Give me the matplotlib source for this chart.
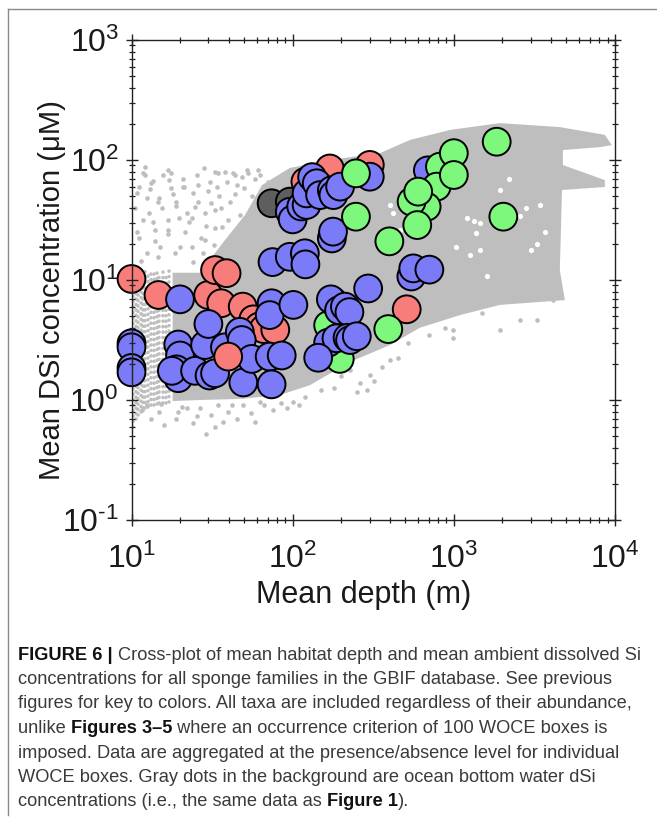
import math
import matplotlib
matplotlib.use("Agg")
import matplotlib.pyplot as plt
from matplotlib.lines import Line2D
from matplotlib.ticker import LogLocator, FixedLocator, FuncFormatter, NullFormatter

plt.rcParams['font.family'] = ['Liberation Sans', 'DejaVu Sans']
plt.rcParams['mathtext.fontset'] = 'custom'
plt.rcParams['mathtext.rm'] = 'Liberation Sans'
plt.rcParams['mathtext.it'] = 'Liberation Sans:italic'
plt.rcParams['mathtext.bf'] = 'Liberation Sans:bold'

# ---------------- data ----------------
# sponge-family circles (mean depth m, mean dSi uM, colour group), in drawing order
depth = [74, 96,
         10, 14.7, 29.9, 33, 38.9, 36, 49, 57, 62, 66, 78, 120, 170, 301, 510,
         166, 196,
         10, 10, 10, 10, 20, 19.5, 20, 19, 19.5, 17.8, 24.8, 28.6, 30, 30.5, 33, 38, 47, 48.3,
         49.4, 55.7, 72, 85.5, 74, 74, 72, 101, 75, 96, 119, 120, 175, 178, 96, 100, 113,
         122, 122, 132, 141, 148, 175, 179, 197, 301, 690, 294, 179, 172.6, 194, 211, 225,
         166, 187, 219, 227, 250, 144, 545, 560, 705,
         820, 782, 678, 247, 247, 398, 392, 547, 593, 601, 1000, 1000, 1845, 2028,
         39.8]
dsi = [43.6, 45,
       10.2, 7.5, 7.5, 12.1, 11.4, 6.4, 6.0, 4.7, 4.1, 3.9, 3.85, 66, 85, 91, 5.7,
       4.2, 2.2,
       2.97, 2.75, 1.85, 1.7, 6.9, 2.9, 2.35, 1.8, 1.52, 1.75, 1.75, 2.87, 4.3, 1.6, 1.67, 2.75, 3.7, 3.16,
       1.4, 2.2, 2.3, 2.35, 1.35, 6.4, 5.1, 6.2, 14.1, 15.6, 16.7, 13.5, 22.2, 25.3, 37, 32, 41,
       42.2, 52.7, 72, 64, 51, 56, 51, 60, 72.6, 82, 8.5, 6.6, 6.9, 5.6, 6.0, 5.4,
       3.0, 3.27, 3.3, 3.16, 3.4, 2.25, 10.7, 12.5, 12.2,
       88, 60, 40.8, 77.4, 33.7, 21, 3.9, 45, 28.7, 54.5, 114, 75, 142, 33.7,
       2.3]
group = (['dark'] * 2 + ['red'] * 15 + ['green'] * 2 + ['blue'] * 60 +
         ['green'] * 14 + ['red'] * 1)

# ocean bottom-water dSi cloud: dense core outline (depth, dSi)
cloud_depth = [38, 50.6, 64.6, 96, 170, 348, 535, 946, 1932, 4546, 8650, 9550, 8050,
               4750, 4750, 8650, 8650, 4690, 4546, 4887, 1932, 1092, 615, 401, 226,
               128, 83.4, 47, 26.6, 18.0, 18.0, 26.6]
cloud_dsi = [21.5, 34.8, 61.9, 85.8, 100, 114, 147, 178, 203, 188, 162, 133, 128,
             121, 90.8, 68, 59.6, 56.2, 12.1, 6.8, 6.2, 5.1, 4.0, 2.87, 2.07,
             1.33, 1.1, 1.02, 1.0, 0.98, 11.5, 11.5]

# gaps (no data) inside the dense cloud
gap_depth = [3430, 2570, 3000, 1450, 1260, 463, 400, 111, 210, 1200, 1450, 420, 1030,
             1380, 1930, 1600, 2200, 3700, 1330, 2800, 3300, 520]
gap_dsi = [42, 34, 17.8, 17.8, 16.3, 26, 42, 35, 51, 33, 30, 36, 19,
           24.6, 56, 10.7, 70, 25, 31, 40, 20, 30]

# shallow-depth columns of bottom-water dots
stripe_depth = [10.25, 10.6, 11.0, 11.4, 11.8, 12.2, 12.7, 13.2, 13.7, 14.3, 14.9, 15.6,
                16.3, 17.1]
stripe_top = [11, 12, 11, 12.5, 11.5, 12, 11, 12, 11.5, 12, 11.5, 12.5, 11.5, 12]
stripe_bottom = [0.6, 0.7, 0.75, 0.8, 0.85, 0.85, 0.88, 0.9, 0.9, 0.92, 0.95, 0.95,
                 0.95, 0.97]

# scattered outlying bottom-water dots
halo_depth = [11.8, 13.3, 15.7, 17.7, 10.8, 12.4, 14.7, 19, 20.9, 24.2, 24.8, 28.6, 33, 38,
              42.8, 11.8, 13.6, 16.9, 23.6, 10.8, 14, 16.9, 21.5, 33, 36.3, 28.6, 14.7,
              18.6, 23.6, 27.9, 33, 39.8, 48.3, 53, 61.2,
              11.1, 12.1, 13.6, 14.9, 16.8, 18.9, 21.3, 25.5, 30.5, 34.5, 43.7, 52, 62.5,
              11.1, 12.5, 14, 16.8, 22.7, 27, 32.5, 11.4, 12.8, 15.5, 19.8, 26, 30, 35,
              45, 58, 70, 12.2, 17.5, 21, 28, 39, 44, 36, 29, 20, 15, 24, 32,
              10.5, 13, 18, 22, 31, 41, 50, 56, 26, 17, 34, 47,
              11.7, 13.2, 14.9, 18.9, 22, 25.5, 28.8, 34.5, 39.8, 49, 62.5, 75,
              12.4, 16, 20.5, 24, 31, 37, 42, 55, 66, 85, 100, 120, 150, 110, 92,
              26.5, 19.5, 45, 33, 58, 15.2,
              226, 261, 301, 288, 357, 402, 450, 250, 986, 986, 1932, 2570, 3281, 4120,
              320, 200, 180, 520, 700, 880, 1500, 3800]
halo_dsi = [77.5, 64, 75, 77.5, 52.7, 48, 45, 45, 60, 52.7, 40.8, 36, 80, 80,
            77.5, 31.6, 30.6, 31.6, 32.7, 25.3, 26.1, 26.1, 25.3, 27, 27.8, 21.5, 15.6,
            16.7, 19, 16.7, 38.3, 31.6, 72.6, 77.5, 82.6,
            60, 75.5, 67, 48, 82, 41, 60, 75.5, 65.5, 78, 75.5, 82, 75.5,
            22.6, 16.8, 21, 24.4, 30.6, 22.6, 19.5, 14.4, 36, 40, 33, 45, 55, 50,
            62, 70, 66, 88, 58, 70, 85, 66, 52, 40, 28, 19, 19, 14, 14.5,
            40, 57, 52, 36, 44, 45, 58, 50, 62, 68, 60, 35,
            0.82, 0.7, 0.79, 0.7, 0.86, 0.74, 0.52, 0.9, 0.8, 0.9, 0.97, 0.82,
            0.9, 0.62, 0.88, 0.64, 0.75, 0.66, 0.9, 0.78, 0.9, 0.95, 0.97, 1.05, 1.2, 0.9, 0.85,
            0.85, 0.8, 0.7, 0.6, 0.66, 0.92,
            1.78, 1.39, 1.61, 1.21, 1.9, 2.15, 2.24, 1.17, 3.83, 3.29, 3.83, 4.64, 4.64, 6.8,
            1.45, 1.6, 1.25, 3.0, 3.5, 4.0, 5.3, 7.5]

x_ticks = [10, 100, 1000, 10000]
y_ticks = [0.1, 1, 10, 100, 1000]
x_label = "Mean depth (m)"
y_label = "Mean DSi concentration (\u03bcM)"

caption_lines = [
    [("FIGURE 6 | ", True), ("Cross-plot of mean habitat depth and mean ambient dissolved Si", False)],
    [("concentrations for all sponge families in the GBIF database. See previous", False)],
    [("figures for key to colors. All taxa are included regardless of their abundance,", False)],
    [("unlike ", False), ("Figures 3\u20135", True), (" where an occurrence criterion of 100 WOCE boxes is", False)],
    [("imposed. Data are aggregated at the presence/absence level for individual", False)],
    [("WOCE boxes. Gray dots in the background are ocean bottom water dSi", False)],
    [("concentrations (i.e., the same data as ", False), ("Figure 1", True), (").", False)],
]

palette = {'red': '#F87C7A', 'blue': '#7B7BF8', 'green': '#7DF87D', 'dark': '#5E5E5E'}
gray = '#BEBEBE'
cap_family = ['Liberation Sans', 'DejaVu Sans']

# ---------------- figure ----------------
W, H = 657, 827
fig = plt.figure(figsize=(W / 100, H / 100), dpi=100)
ax = fig.add_axes([131.5 / W, 1 - 520 / H, (615 - 131.5) / W, 480 / H])
ax.set_xscale('log')
ax.set_yscale('log')
ax.set_xlim(10, 10000)
ax.set_ylim(0.1, 1000)

ax.fill(cloud_depth, cloud_dsi, color=gray, lw=0, zorder=1)
ax.scatter(gap_depth, gap_dsi, s=14, color='white', lw=0, zorder=1.1)
for d, t, b in zip(stripe_depth, stripe_top, stripe_bottom):
    ax.plot([d, d], [b, t], color=gray, lw=2.6, linestyle=(0, (0.01, 1.5)),
            dash_capstyle='round', zorder=1)
ax.scatter(halo_depth, halo_dsi, s=11, color=gray, lw=0, zorder=1)

cols = [palette[g] for g in group]
ax.scatter(depth, dsi, s=400, c=cols, edgecolors='black', linewidths=1.4,
           zorder=2, clip_on=False)

ax.set_axisbelow(False)
for sp in ax.spines.values():
    sp.set_linewidth(1.0)
    sp.set_color('#222222')
    sp.set_zorder(3)


def decade_label(v, pos):
    e = round(math.log10(v))
    s = str(e).replace('-', '\u2010')
    return r'$\mathregular{10^{%s}}$' % s


ax.xaxis.set_major_locator(FixedLocator(x_ticks))
ax.yaxis.set_major_locator(FixedLocator(y_ticks))
ax.xaxis.set_minor_locator(LogLocator(base=10, subs=range(2, 10)))
ax.yaxis.set_minor_locator(LogLocator(base=10, subs=range(2, 10)))
ax.xaxis.set_major_formatter(FuncFormatter(decade_label))
ax.yaxis.set_major_formatter(FuncFormatter(decade_label))
ax.xaxis.set_minor_formatter(NullFormatter())
ax.yaxis.set_minor_formatter(NullFormatter())
ax.tick_params(which='both', direction='inout', top=True, right=True, colors='#222222',
               labelcolor='#1a1a1a')
ax.tick_params(which='major', length=8, width=1.0, labelsize=23)
ax.tick_params(which='minor', length=4.5, width=0.9)
ax.tick_params(axis='x', which='major', pad=13)
ax.tick_params(axis='y', which='major', pad=5)

ax.set_xlabel(x_label, fontsize=22, color='#1a1a1a')
ax.set_ylabel(y_label, fontsize=21, color='#1a1a1a')
ax.xaxis.set_label_coords(0.48, -0.125)
ax.yaxis.set_label_coords(-0.135, 0.48)

# frame lines of the figure panel
fig.add_artist(Line2D([8 / W, 1], [1 - 9 / H, 1 - 9 / H], color='#8a8a8a', lw=1.0))
fig.add_artist(Line2D([8 / W, 8 / W], [1 - 9 / H, 1 - 815 / H], color='#8a8a8a', lw=1.0))

# caption
renderer = fig.canvas.get_renderer()
target_width = 625.0
w = 0
probes = []
for seg, bold in caption_lines[0]:
    p = fig.text(0, 0, seg, fontsize=12, family=cap_family,
                 fontweight='bold' if bold else 'normal')
    w += p.get_window_extent(renderer).width
    probes.append(p)
for p in probes:
    p.remove()
fs = 12 * target_width / w
x0 = 18
y_first, spacing = 655, 24.5
for i, line in enumerate(caption_lines):
    x = x0
    y = 1 - (y_first + i * spacing) / H
    for seg, bold in line:
        t = fig.text(x / W, y, seg, fontsize=fs, va='center', ha='left', family=cap_family,
                     fontweight='bold' if bold else 'normal',
                     color='#111111' if bold else '#3a3a3a')
        x += t.get_window_extent(renderer).width

fig.savefig('out.png', dpi=100)
